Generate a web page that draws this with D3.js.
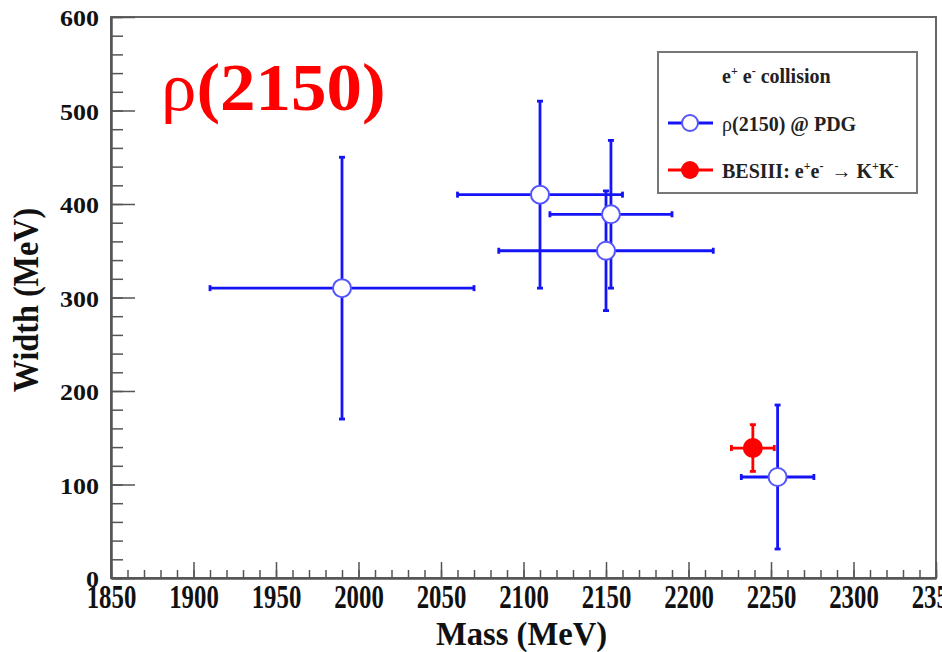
<!DOCTYPE html>
<html>
<head>
<meta charset="utf-8">
<script src="https://cdn.jsdelivr.net/npm/d3@7"></script>
<style>
  body { margin: 0; background: #fff; }
  text { font-family: "Liberation Serif", "Times New Roman", serif; font-weight: bold; }
</style>
</head>
<body>
<script>
// rho(2150) mass vs width, PDG entries and BESIII measurement

// PDG entries (open circles)
const pdgMass = [1990, 2110, 2153, 2150, 2254];
const pdgWidth = [310, 410, 389, 350, 108];
const pdgMassErr = [80, 50, 37, 65, 22];
const pdgWidthErr = [140, 100, 79, 64, 77];

// BESIII e+e- -> K+K- (filled circle)
const besMass = [2239];
const besWidth = [139];
const besMassErr = [13];
const besWidthErr = [25];

const xTicks = [1850, 1900, 1950, 2000, 2050, 2100, 2150, 2200, 2250, 2300, 2350];
const yTicks = [0, 100, 200, 300, 400, 500, 600];

const width = 942;
const height = 652;
const margin = {left: 111, right: 6, top: 17, bottom: 74};

const svg = d3.select("body")
    .append("svg")
    .attr("width", width)
    .attr("height", height);

const xScale = d3.scaleLinear()
    .domain([1850, 2350])
    .range([margin.left, width - margin.right]);

const yScale = d3.scaleLinear()
    .domain([0, 600])
    .range([height - margin.bottom, margin.top]);

const x0 = xScale.range()[0], x1 = xScale.range()[1];
const y0 = yScale.range()[0], y1 = yScale.range()[1];

// frame
svg.append("rect")
    .attr("x", x0).attr("y", y1)
    .attr("width", x1 - x0).attr("height", y0 - y1)
    .attr("fill", "none")
    .attr("stroke", "#666")
    .attr("stroke-width", 2);

// minor ticks
svg.append("g")
    .attr("transform", `translate(0,${y0})`)
    .call(d3.axisBottom(xScale).tickValues(d3.range(1850, 2351, 10)).tickSize(-8).tickFormat(""))
    .call(g => g.select(".domain").remove())
    .call(g => g.selectAll("line").attr("stroke", "#555").attr("stroke-width", 1.5));

svg.append("g")
    .attr("transform", `translate(${x0},0)`)
    .call(d3.axisLeft(yScale).tickValues(d3.range(0, 601, 20)).tickSize(-12).tickFormat(""))
    .call(g => g.select(".domain").remove())
    .call(g => g.selectAll("line").attr("stroke", "#555").attr("stroke-width", 1.5));

// major ticks + labels
svg.append("g")
    .attr("transform", `translate(0,${y0})`)
    .call(d3.axisBottom(xScale).tickValues(xTicks).tickSize(-16).tickSizeOuter(0).tickFormat(d3.format("d")))
    .call(g => g.select(".domain").attr("stroke", "#555").attr("stroke-width", 2.5))
    .call(g => g.selectAll("line").attr("stroke", "#555").attr("stroke-width", 1.5))
    .call(g => g.selectAll("text")
        .attr("y", null).attr("dy", null)
        .attr("transform", "translate(0,30) scale(0.73,1)")
        .attr("font-size", 34)
        .attr("fill", "#111"));

svg.append("g")
    .attr("transform", `translate(${x0},0)`)
    .call(d3.axisLeft(yScale).tickValues(yTicks).tickSize(-24).tickSizeOuter(0).tickFormat(d3.format("d")))
    .call(g => g.select(".domain").attr("stroke", "#555").attr("stroke-width", 2.5))
    .call(g => g.selectAll("line").attr("stroke", "#555").attr("stroke-width", 1.5))
    .call(g => g.selectAll("text")
        .attr("x", null).attr("dy", null)
        .attr("transform", "translate(-12,8.5) scale(1.13,1)")
        .attr("font-size", 23)
        .attr("fill", "#111"));

// axis titles
svg.append("text")
    .attr("transform", `translate(${(x0 + x1) / 2 - 2},645) scale(0.96,1)`)
    .attr("text-anchor", "middle")
    .attr("font-size", 34)
    .attr("fill", "#111")
    .text("Mass (MeV)");

svg.append("text")
    .attr("transform", "translate(38,300) rotate(-90) scale(0.92,1)")
    .attr("text-anchor", "middle")
    .attr("font-size", 35)
    .attr("fill", "#111")
    .text("Width (MeV)");

// big label
const big = svg.append("text")
    .attr("transform", "translate(161,110) scale(1.06,1)")
    .attr("font-size", 67)
    .attr("fill", "#f00");
big.append("tspan").attr("font-weight", "normal").text("ρ");
big.append("tspan").text("(2150)");

// error bars
function drawPoints(mass, w, mErr, wErr, color, filled) {
    const g = svg.append("g");
    const idx = d3.range(mass.length);
    const cap = 3;
    idx.forEach(i => {
        const cx = xScale(mass[i]), cy = yScale(w[i]);
        const xa = xScale(mass[i] - mErr[i]), xb = xScale(mass[i] + mErr[i]);
        const ya = yScale(w[i] - wErr[i]), yb = yScale(w[i] + wErr[i]);
        const segs = [
            [xa, cy, xb, cy], [cx, ya, cx, yb],
            [xa, cy - cap, xa, cy + cap], [xb, cy - cap, xb, cy + cap],
            [cx - cap, ya, cx + cap, ya], [cx - cap, yb, cx + cap, yb]
        ];
        segs.forEach(s => g.append("line")
            .attr("x1", s[0]).attr("y1", s[1]).attr("x2", s[2]).attr("y2", s[3])
            .attr("stroke", color).attr("stroke-width", 2.8));
    });
    idx.forEach(i => {
        g.append("circle")
            .attr("cx", xScale(mass[i])).attr("cy", yScale(w[i]))
            .attr("r", 9)
            .attr("fill", filled ? color : "#fff")
            .attr("stroke", filled ? color : "#5555ff")
            .attr("stroke-width", 2);
    });
}

drawPoints(pdgMass, pdgWidth, pdgMassErr, pdgWidthErr, "#1414f5", false);
drawPoints(besMass, besWidth, besMassErr, besWidthErr, "#f00", true);

// legend
const leg = svg.append("g");
leg.append("rect")
    .attr("x", 658).attr("y", 52).attr("width", 259).attr("height", 141)
    .attr("fill", "#fff").attr("stroke", "#777").attr("stroke-width", 2);

const lt = leg.append("text").attr("x", 722).attr("y", 83).attr("font-size", 20).attr("fill", "#222");
lt.append("tspan").text("e");
lt.append("tspan").attr("dy", -8).attr("font-size", 12).text("+");
lt.append("tspan").attr("dy", 8).text(" e");
lt.append("tspan").attr("dy", -8).attr("font-size", 12).text("-");
lt.append("tspan").attr("dy", 8).text(" collision");

leg.append("line").attr("x1", 668).attr("x2", 713).attr("y1", 123).attr("y2", 123)
    .attr("stroke", "#1414f5").attr("stroke-width", 2.8);
leg.append("circle").attr("cx", 690).attr("cy", 123).attr("r", 8)
    .attr("fill", "#fff").attr("stroke", "#5555ff").attr("stroke-width", 2);
const t1 = leg.append("text").attr("x", 722).attr("y", 131).attr("font-size", 20).attr("fill", "#222");
t1.append("tspan").attr("font-weight", "normal").text("ρ");
t1.append("tspan").text("(2150) @ PDG");

leg.append("line").attr("x1", 668).attr("x2", 713).attr("y1", 170).attr("y2", 170)
    .attr("stroke", "#f00").attr("stroke-width", 2.8);
leg.append("circle").attr("cx", 690).attr("cy", 170).attr("r", 9).attr("fill", "#f00");
const t2 = leg.append("text").attr("x", 722).attr("y", 178).attr("font-size", 20).attr("fill", "#222");
t2.append("tspan").text("BESIII: e");
t2.append("tspan").attr("dy", -8).attr("font-size", 12).text("+");
t2.append("tspan").attr("dy", 8).text("e");
t2.append("tspan").attr("dy", -8).attr("font-size", 12).text("-");
t2.append("tspan").attr("dy", 8).attr("dx", 8).text("→ K");
t2.append("tspan").attr("dy", -8).attr("font-size", 12).text("+");
t2.append("tspan").attr("dy", 8).text("K");
t2.append("tspan").attr("dy", -8).attr("font-size", 12).text("-");
</script>
</body>
</html>
